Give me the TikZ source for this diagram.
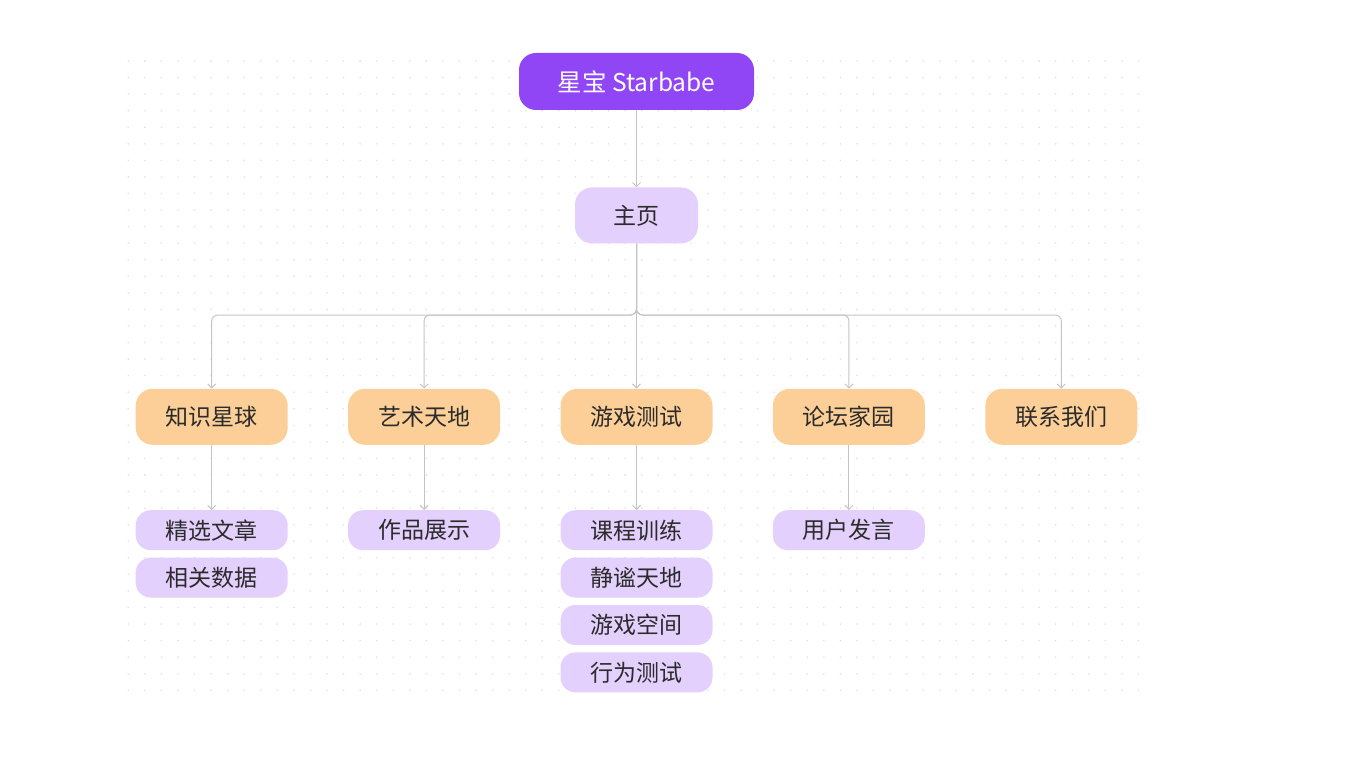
\documentclass[tikz,border=0pt]{standalone}
\usepackage{fontspec}
\setmainfont{Noto Sans CJK SC}
\usepackage{tikz}
\usetikzlibrary{positioning,arrows.meta}

\definecolor{deeppurple}{HTML}{9146F6}
\definecolor{lightpurple}{HTML}{E3D0FC}
\definecolor{peach}{HTML}{FBCF97}
\definecolor{inkgray}{HTML}{2B2B2B}
\definecolor{linegray}{HTML}{C4C4C4}
\definecolor{dotgray}{HTML}{E0E0E0}

\begin{document}
\begin{tikzpicture}[
    x=1pt, y=-1pt,
    node distance=60pt and 60pt,
    box/.style={rectangle, rounded corners=17pt, align=center, inner sep=0pt, font=\fontsize{23}{28}\selectfont, text=inkgray},
    rootbox/.style={box, fill=deeppurple, text=white, font=\fontsize{24.5}{29}\selectfont, minimum width=235pt, minimum height=57pt},
    homebox/.style={box, fill=lightpurple, minimum width=123pt, minimum height=56pt},
    sectionbox/.style={box, fill=peach, minimum width=152pt, minimum height=56pt},
    leafbox/.style={box, fill=lightpurple, rounded corners=15pt, minimum width=152pt, minimum height=40pt},
    link/.style={-{Straight Barb[length=4pt,width=8pt]}, line width=1pt, color=linegray, rounded corners=6pt}
]

    % Canvas
    \useasboundingbox (0,0) rectangle (1359,759);
    \foreach \i in {0,...,61}{
        \foreach \j in {0,...,38}{
            \fill[dotgray] (128.3+16.56*\i, 61+16.56*\j) circle (0.9pt);
        }
    }

    % Nodes
    \node[rootbox] (root) at (636.5,81.5) {星宝 Starbabe};
    \node[homebox, below=77pt of root] (home) {主页};

    \node[sectionbox, below=145pt of home] (game) {游戏测试};
    \node[sectionbox, left=of game] (art) {艺术天地};
    \node[sectionbox, left=of art] (know) {知识星球};
    \node[sectionbox, right=of game] (forum) {论坛家园};
    \node[sectionbox, right=of forum] (contact) {联系我们};

    \node[leafbox, below=65pt of know] (pick) {精选文章};
    \node[leafbox, below=7pt of pick] (data) {相关数据};
    \node[leafbox, below=65pt of art] (works) {作品展示};
    \node[leafbox, below=65pt of game] (course) {课程训练};
    \node[leafbox, below=7pt of course] (quiet) {静谧天地};
    \node[leafbox, below=7pt of quiet] (space) {游戏空间};
    \node[leafbox, below=7pt of space] (behave) {行为测试};
    \node[leafbox, below=65pt of forum] (post) {用户发言};

    \coordinate (hub) at (636.5,315);

    % Arrows
    \draw[link] (root) -- (home);
    \draw[link] (home) -- (game);
    \foreach \n in {know,art,forum,contact}
        \draw[link] (home.south) -- (hub) -| (\n.north);
    \foreach \a/\b in {know/pick,art/works,game/course,forum/post}
        \draw[link] (\a) -- (\b);

\end{tikzpicture}
\end{document}
